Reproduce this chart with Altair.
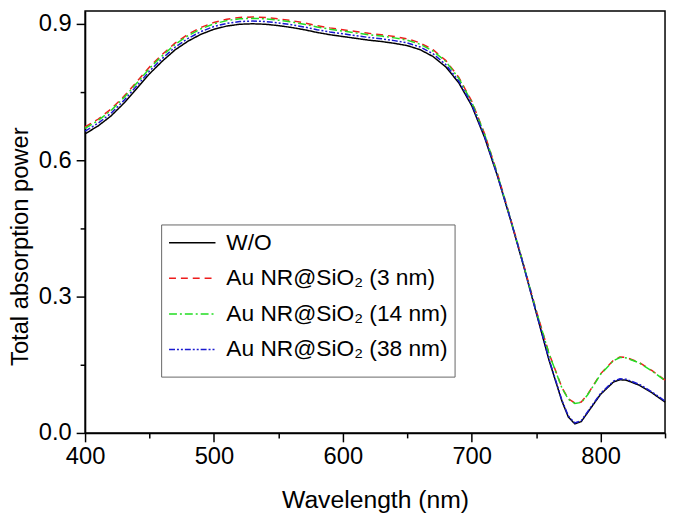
import altair as alt
import pandas as pd

wavelength = [400, 410, 420, 430, 440, 450, 460, 470, 480, 490, 500, 510, 520, 530, 540,
              550, 560, 570, 580, 590, 600, 610, 620, 630, 640, 650, 660, 670, 680, 690,
              700, 710, 720, 730, 740, 750, 760, 770, 775, 780, 785, 790, 800, 810, 815,
              820, 830, 840, 850]

wo = [0.658, 0.675, 0.697, 0.725, 0.757, 0.790, 0.818, 0.843, 0.862, 0.877, 0.888, 0.895,
      0.899, 0.900, 0.899, 0.896, 0.892, 0.887, 0.881, 0.876, 0.872, 0.868, 0.864, 0.861,
      0.857, 0.852, 0.843, 0.828, 0.805, 0.770, 0.720, 0.650, 0.565, 0.470, 0.370, 0.265,
      0.160, 0.070, 0.035, 0.020, 0.025, 0.045, 0.085, 0.112, 0.117, 0.116, 0.105, 0.088,
      0.068]

au3 = [0.673, 0.690, 0.712, 0.740, 0.772, 0.805, 0.833, 0.858, 0.877, 0.892, 0.903, 0.910,
       0.914, 0.915, 0.914, 0.911, 0.907, 0.902, 0.896, 0.891, 0.887, 0.883, 0.879, 0.876,
       0.872, 0.867, 0.858, 0.843, 0.819, 0.782, 0.730, 0.658, 0.570, 0.473, 0.373, 0.270,
       0.175, 0.100, 0.075, 0.066, 0.068, 0.085, 0.130, 0.160, 0.167, 0.166, 0.155, 0.137,
       0.116]

au14 = [0.670, 0.687, 0.709, 0.737, 0.769, 0.802, 0.830, 0.855, 0.874, 0.889, 0.900, 0.907,
        0.911, 0.912, 0.911, 0.908, 0.904, 0.899, 0.893, 0.888, 0.884, 0.880, 0.876, 0.873,
        0.869, 0.864, 0.855, 0.840, 0.817, 0.780, 0.728, 0.657, 0.569, 0.472, 0.372, 0.269,
        0.174, 0.099, 0.074, 0.065, 0.067, 0.084, 0.129, 0.159, 0.166, 0.165, 0.154, 0.136,
        0.115]

au38 = [0.664, 0.681, 0.703, 0.731, 0.763, 0.796, 0.824, 0.849, 0.868, 0.883, 0.894, 0.901,
        0.905, 0.906, 0.905, 0.902, 0.898, 0.893, 0.887, 0.882, 0.878, 0.874, 0.870, 0.867,
        0.863, 0.858, 0.849, 0.834, 0.810, 0.774, 0.723, 0.652, 0.566, 0.471, 0.371, 0.266,
        0.162, 0.072, 0.037, 0.022, 0.027, 0.047, 0.087, 0.114, 0.119, 0.118, 0.107, 0.090,
        0.070]

series_names = ["W/O", "Au NR@SiO\u2082 (3 nm)", "Au NR@SiO\u2082 (14 nm)", "Au NR@SiO\u2082 (38 nm)"]
series_values = [wo, au3, au14, au38]
series_colors = ["#000000", "#ee1c1c", "#22dd22", "#1a1ad0"]
series_dashes = [[1, 0], [7, 5], [8, 3, 2, 3], [6, 2, 2, 2, 2, 2]]

rows = []
for order, (name, vals) in enumerate(zip(series_names, series_values)):
    for w, v in zip(wavelength, vals):
        rows.append({"wavelength": w, "value": v, "series": name, "order": order})
df = pd.DataFrame(rows)

FONT = "Liberation Sans"

legend = alt.Legend(
    title=" ",
    titleOrient="bottom",
    titleFontSize=6,
    titlePadding=2,
    orient="none",
    legendX=77,
    legendY=216,
    symbolType="stroke",
    symbolSize=2209,
    symbolStrokeWidth=1.5,
    clipHeight=23,
    labelFontSize=23,
    labelFont=FONT,
    labelColor="black",
    labelLimit=400,
    labelOffset=10,
    rowPadding=12,
    padding=7,
    strokeColor="#666666",
    fillColor="white",
)

chart = alt.Chart(df).mark_line(strokeWidth=1.5).encode(
    x=alt.X("wavelength:Q",
            scale=alt.Scale(domain=[400, 850], nice=False, zero=False),
            axis=alt.Axis(
                title="Wavelength (nm)",
                values=[400, 450, 500, 550, 600, 650, 700, 750, 800, 850],
                labelExpr="datum.value % 100 === 0 ? datum.label : ''",
                tickSize={"condition": {"test": "datum.value % 100 === 0", "value": 9}, "value": 5},
                format="d",
                labelFlush=False,
                labelOverlap=False,
                labelPadding=3,
                titlePadding=19,
                titleFontSize=25,
            )),
    y=alt.Y("value:Q",
            scale=alt.Scale(domain=[0, 0.928], nice=False),
            axis=alt.Axis(
                title="Total absorption power",
                values=[0.0, 0.15, 0.3, 0.45, 0.6, 0.75, 0.9],
                labelExpr="round(datum.value * 100) % 30 === 0 ? datum.label : ''",
                tickSize={"condition": {"test": "round(datum.value * 100) % 30 === 0", "value": 9}, "value": 5},
                format=".1f",
                labelFlush=False,
                labelOverlap=False,
                labelPadding=5,
                titleFontSize=24,
                titleX=-53,
                titleY=238,
            )),
    color=alt.Color("series:N",
                    scale=alt.Scale(domain=series_names, range=series_colors),
                    legend=legend),
    strokeDash=alt.StrokeDash("series:N",
                              scale=alt.Scale(domain=series_names, range=series_dashes),
                              legend=legend),
    order=alt.Order("order:Q"),
).properties(
    width=587,
    height=427,
    autosize=alt.AutoSizeParams(type="none"),
    padding={"left": 78, "top": 0, "right": 2, "bottom": 84},
).configure_view(
    stroke="black",
    strokeWidth=1.5,
).configure_axis(
    domainColor="black",
    domainWidth=1.5,
    tickColor="black",
    tickWidth=1.5,
    labelColor="black",
    labelFont=FONT,
    labelFontSize=24,
    titleFont=FONT,
    titleFontWeight="normal",
    titleColor="black",
    grid=False,
)

chart.save("out.html", embed_options={"renderer": "svg", "actions": False})
